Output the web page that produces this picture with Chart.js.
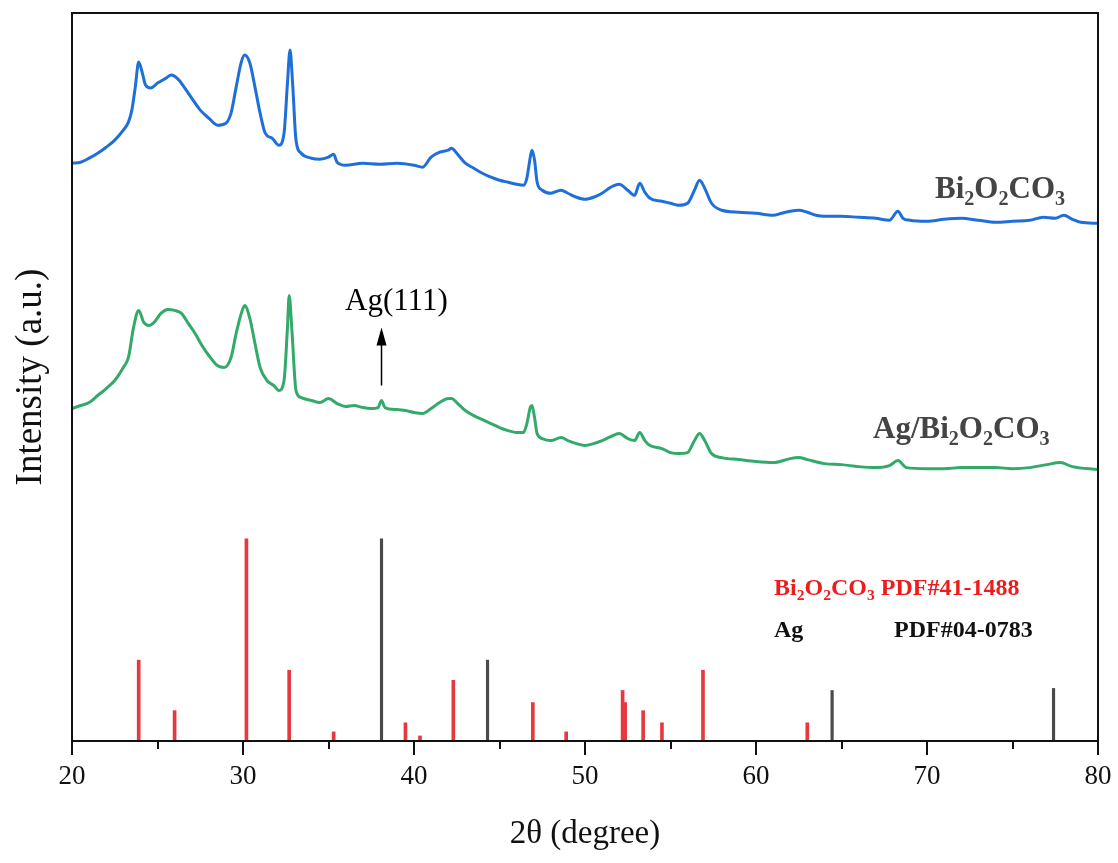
<!DOCTYPE html>
<html>
<head>
<meta charset="utf-8">
<script src="https://cdn.jsdelivr.net/npm/chart.js@4.4.1/dist/chart.umd.min.js"></script>
<style>
  body { margin: 0; background: #fff; }
  #xrd { display: block; }
</style>
</head>
<body>
<canvas id="xrd" width="1118" height="863"></canvas>
<script>
// XRD patterns, intensity in arbitrary units (offset stacked)

const bi2o2co3Theta = [20, 20.5, 21, 21.5, 22, 22.5, 23, 23.3, 23.5, 23.7, 23.9, 24.1, 24.3, 24.6, 25, 25.5, 25.8, 26.2, 26.6, 27,
  27.5, 28, 28.5, 29, 29.3, 29.6, 29.9, 30.1, 30.4, 30.7, 31, 31.3, 31.7, 32.1, 32.4, 32.6, 32.75, 32.9, 33.1, 33.4,
  34, 34.5, 35, 35.3, 35.5, 36, 37, 38, 39, 40, 40.5, 41, 41.5, 42, 42.2, 42.5, 43, 43.5, 44, 44.5,
  45, 45.5, 46, 46.4, 46.6, 46.8, 46.9, 47.05, 47.2, 47.5, 48, 48.6, 49, 49.5, 50, 50.5, 51, 51.5, 52, 52.5,
  52.9, 53.2, 53.5, 53.8, 54.5, 55, 55.5, 56, 56.4, 56.7, 57, 57.4, 58, 59, 60, 61, 61.5, 62, 62.5, 63,
  63.5, 64, 65, 66, 67, 67.8, 68.3, 68.6, 69, 70, 71, 72, 73, 74, 75, 76, 76.8, 77.5, 78, 78.5, 79, 80];
const bi2o2co3Counts = [577, 578, 582, 587, 593, 600, 610, 618, 630, 653, 678, 668, 655, 652, 657, 662, 665, 661, 652, 642,
  630, 622, 615, 617, 627, 653, 678, 685, 677, 653, 627, 607, 602, 595, 607, 657, 690, 657, 600, 587,
  582, 581, 583, 586, 578, 575, 577, 576, 577, 575, 573, 583, 588, 590, 592, 587, 577, 572, 567, 563,
  560, 558, 556, 555, 562, 583, 590, 580, 558, 550, 547, 550, 547, 543, 541, 543, 547, 553, 556, 550,
  545, 557, 548, 542, 539, 537, 535, 537, 550, 560, 552, 537, 530, 528, 527, 525, 527, 529, 530, 528,
  525, 524, 524, 523, 522, 520, 529, 522, 520, 519, 521, 522, 520, 518, 519, 520, 523, 522, 525, 521, 518, 517];

const agBiTheta = [20, 20.5, 21, 21.5, 22, 22.5, 23, 23.3, 23.6, 23.9, 24.2, 24.5, 24.8, 25.2, 25.6, 26, 26.4, 26.8, 27.2, 27.6,
  28, 28.5, 28.9, 29.3, 29.6, 29.9, 30.1, 30.4, 30.7, 31, 31.4, 31.8, 32.1, 32.4, 32.6, 32.7, 32.85, 33.1, 33.4, 34,
  34.5, 35, 35.5, 36, 36.5, 37, 37.5, 37.9, 38.1, 38.3, 39, 39.5, 40, 40.5, 41, 41.5, 42, 42.2, 42.5, 43,
  43.5, 44, 44.5, 45, 45.5, 46, 46.4, 46.6, 46.8, 46.9, 47.05, 47.2, 47.5, 48, 48.6, 49, 49.5, 50, 50.5, 51,
  51.5, 52, 52.5, 52.9, 53.2, 53.5, 53.8, 54.5, 55, 55.5, 56, 56.4, 56.7, 57, 57.4, 58, 59, 60, 61, 62,
  62.5, 63, 64, 65, 66, 67, 67.8, 68.3, 68.8, 70, 71, 72, 73, 74, 75, 76, 77, 77.8, 78.5, 80];
const agBiCounts = [332, 335, 338, 345, 352, 360, 373, 383, 413, 430, 418, 415, 418, 427, 431, 430, 427, 417, 407, 395,
  385, 375, 373, 383, 407, 427, 435, 422, 397, 373, 360, 355, 350, 360, 413, 445, 413, 350, 343, 340,
  338, 342, 337, 334, 335, 333, 332, 333, 340, 333, 331, 330, 328, 327, 332, 338, 342, 342, 338, 330,
  325, 321, 317, 313, 310, 308, 308, 317, 333, 335, 323, 307, 302, 300, 303, 300, 297, 295, 297, 300,
  304, 307, 302, 300, 308, 300, 295, 292, 288, 287, 288, 300, 307, 300, 287, 283, 281, 279, 278, 282,
  283, 281, 277, 276, 274, 273, 275, 280, 273, 272, 272, 273, 273, 273, 272, 273, 276, 278, 274, 271];

// standard cards, relative intensity (%)
const bi2o2co3PdfTheta = [23.9, 26.0, 30.2, 32.7, 35.3, 39.5, 40.35, 42.3, 46.95, 48.9, 52.2, 52.35, 53.4, 54.5, 56.9, 63.0];
const bi2o2co3PdfInt = [40, 15, 100, 35, 4.5, 9, 2.5, 30, 19, 4.5, 25, 19, 15, 9, 35, 9];
const agPdfTheta = [38.1, 44.3, 64.45, 77.4];
const agPdfInt = [100, 40, 25, 26];

const xTicks = [20, 30, 40, 50, 60, 70, 80];

function pairs(xs, ys) {
  return xs.map((x, i) => ({ x: x, y: ys[i] }));
}

// text with subscripts: parts = [[text, isSub], ...]
function drawRich(ctx, x, y, parts, size, color, weight) {
  ctx.save();
  ctx.fillStyle = color;
  ctx.textBaseline = 'alphabetic';
  ctx.textAlign = 'left';
  parts.forEach(p => {
    const sub = p[1];
    const fs = sub ? size * 0.65 : size;
    ctx.font = weight + ' ' + fs + 'px "Liberation Serif"';
    ctx.fillText(p[0], x, sub ? y + size * 0.22 : y);
    x += ctx.measureText(p[0]).width;
  });
  ctx.restore();
  return x;
}

const formula = [['Bi', 0], ['2', 1], ['O', 0], ['2', 1], ['CO', 0], ['3', 1]];

const decorPlugin = {
  id: 'decor',
  afterDatasetsDraw(chart) {
    const ctx = chart.ctx;
    const area = chart.chartArea;
    const xs = chart.scales.x;
    const ys = chart.scales.y;

    // frame
    ctx.save();
    ctx.strokeStyle = '#111';
    ctx.lineWidth = 2;
    ctx.strokeRect(area.left, area.top, area.right - area.left, area.bottom - area.top);

    // major / minor ticks
    for (let v = 20; v <= 80; v += 5) {
      const px = Math.round(xs.getPixelForValue(v));
      const len = v % 10 === 0 ? 14 : 8;
      ctx.beginPath();
      ctx.moveTo(px, area.bottom);
      ctx.lineTo(px, area.bottom + len);
      ctx.stroke();
    }

    // Ag(111) arrow
    const ax = xs.getPixelForValue(38.1);
    const aBase = ys.getPixelForValue(355);
    const aTip = ys.getPixelForValue(413);
    ctx.strokeStyle = '#000';
    ctx.fillStyle = '#000';
    ctx.lineWidth = 1.5;
    ctx.beginPath();
    ctx.moveTo(ax, aBase);
    ctx.lineTo(ax, aTip + 14);
    ctx.stroke();
    ctx.beginPath();
    ctx.moveTo(ax, aTip);
    ctx.lineTo(ax - 5, aTip + 18);
    ctx.lineTo(ax + 5, aTip + 18);
    ctx.closePath();
    ctx.fill();

    ctx.font = '31px "Liberation Serif"';
    ctx.textAlign = 'left';
    ctx.fillText('Ag(111)', 345, 310);

    // y title
    ctx.translate(31, (area.top + area.bottom) / 2);
    ctx.rotate(-Math.PI / 2);
    ctx.textAlign = 'center';
    ctx.textBaseline = 'middle';
    ctx.fillStyle = '#111';
    ctx.font = '37px "Liberation Serif"';
    ctx.fillText('Intensity (a.u.)', 0, 0);
    ctx.restore();

    // curve labels
    drawRich(ctx, 935, 198, formula, 31, '#444', 'bold');
    const after = drawRich(ctx, 873, 438, [['Ag/', 0]], 31, '#444', 'bold');
    drawRich(ctx, after, 438, formula, 31, '#444', 'bold');

    // card legend
    const e = drawRich(ctx, 774, 595, formula, 24, '#ee1c1c', 'bold');
    drawRich(ctx, e + 6, 595, [['PDF#41-1488', 0]], 24, '#ee1c1c', 'bold');
    drawRich(ctx, 774, 637, [['Ag', 0]], 24, '#111', 'bold');
    drawRich(ctx, 894, 637, [['PDF#04-0783', 0]], 24, '#111', 'bold');
  }
};

new Chart(document.getElementById('xrd'), {
  type: 'line',
  data: {
    datasets: [{
      label: 'Bi2O2CO3',
      data: pairs(bi2o2co3Theta, bi2o2co3Counts),
      borderColor: '#1f6fdb',
      borderWidth: 3,
      pointRadius: 0,
      cubicInterpolationMode: 'monotone'
    },
    {
      label: 'Ag/Bi2O2CO3',
      data: pairs(agBiTheta, agBiCounts),
      borderColor: '#33aa69',
      borderWidth: 3,
      pointRadius: 0,
      cubicInterpolationMode: 'monotone'
    },
    {
      type: 'bar',
      label: 'Bi2O2CO3 PDF#41-1488',
      data: pairs(bi2o2co3PdfTheta, bi2o2co3PdfInt),
      backgroundColor: '#e6393f',
      barThickness: 3,
      grouped: false,
      yAxisID: 'y2'
    },
    {
      type: 'bar',
      label: 'Ag PDF#04-0783',
      data: pairs(agPdfTheta, agPdfInt),
      backgroundColor: '#4a4a4a',
      barThickness: 2.5,
      grouped: false,
      yAxisID: 'y2'
    }]
  },
  options: {
    responsive: false,
    animation: false,
    layout: { padding: { left: 72, right: 20, top: 13, bottom: 9 } },
    plugins: {
      legend: { display: false },
      tooltip: { enabled: false }
    },
    scales: {
      x: {
        type: 'linear',
        min: 20,
        max: 80,
        offset: false,
        afterBuildTicks: axis => { axis.ticks = xTicks.map(v => ({ value: v })); },
        grid: {
          display: true,
          drawOnChartArea: false,
          drawTicks: true,
          tickLength: 20,
          tickColor: 'rgba(0,0,0,0)'
        },
        border: { display: false },
        ticks: {
          padding: 0,
          color: '#111',
          font: { family: 'Liberation Serif', size: 27 }
        },
        title: {
          display: true,
          text: '2θ (degree)',
          color: '#111',
          padding: { top: 21, bottom: 0 },
          font: { family: 'Liberation Serif', size: 33 }
        }
      },
      y: {
        display: false,
        min: 0,
        max: 727
      },
      y2: {
        display: false,
        min: 0,
        max: 360
      }
    }
  },
  plugins: [decorPlugin]
});
</script>
</body>
</html>
